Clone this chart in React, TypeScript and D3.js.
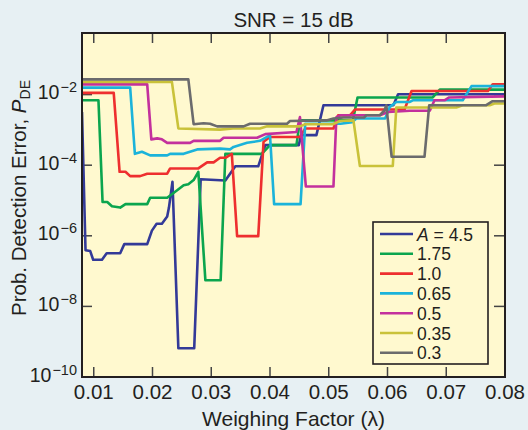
import React from 'react';
import * as d3 from 'd3';

// Weighing factor λ vs. probability of detection error P_DE, one curve per amplitude A.
const lambdaTicks = [0.01, 0.02, 0.03, 0.04, 0.05, 0.06, 0.07, 0.08];
const pdeTicks = [1e-2, 1e-4, 1e-6, 1e-8, 1e-10];
const pdeTickExponents = ['−2', '−4', '−6', '−8', '−10'];
const amplitudeLabels = ['4.5', '1.75', '1.0', '0.65', '0.5', '0.35', '0.3'];

const seriesA45: [number, number][] = [
  [0.0080, 3.2e-3], [0.0086, 3.9e-7], [0.0094, 3.7e-7], [0.0099, 2.1e-7], [0.0114, 2.1e-7],
  [0.0122, 3.2e-7], [0.0145, 3.2e-7], [0.0152, 5.8e-7], [0.0191, 5.8e-7], [0.0199, 1.4e-6],
  [0.0207, 2.2e-6], [0.0216, 2.2e-6], [0.0225, 3.5e-6], [0.0228, 6.3e-6], [0.0234, 3.4e-5],
  [0.0244, 6.5e-10], [0.0271, 6.5e-10], [0.0282, 4.0e-5], [0.0324, 3.7e-5], [0.0341, 9.3e-5],
  [0.0380, 9.3e-5], [0.0392, 3.7e-4], [0.0449, 3.7e-4], [0.0453, 7.1e-4], [0.0479, 7.1e-4],
  [0.0491, 5.0e-3], [0.0610, 5.0e-3], [0.0618, 1.02e-2], [0.0800, 1.02e-2],
];
const seriesA175: [number, number][] = [
  [0.0080, 6.9e-3], [0.0108, 6.9e-3], [0.0115, 9.1e-6], [0.0123, 9.1e-6], [0.0131, 6.9e-6],
  [0.0145, 6.3e-6], [0.0154, 7.9e-6], [0.0191, 7.9e-6], [0.0196, 1.2e-5], [0.0225, 1.2e-5],
  [0.0242, 1.95e-5], [0.0253, 2.7e-5], [0.0261, 2.9e-5], [0.0270, 3.8e-5], [0.0278, 6.5e-5],
  [0.0290, 5.5e-8], [0.0316, 5.5e-8], [0.0324, 2.1e-4], [0.0386, 2.1e-4], [0.0400, 3.7e-4],
  [0.0445, 3.7e-4], [0.0451, 1.86e-3], [0.0541, 1.86e-3], [0.0549, 8.3e-3], [0.0677, 8.3e-3],
  [0.0689, 1.38e-2], [0.0800, 1.38e-2],
];
const seriesA10: [number, number][] = [
  [0.0080, 1.12e-2], [0.0134, 1.12e-2], [0.0144, 6.5e-5], [0.0154, 6.5e-5], [0.0162, 4.9e-5],
  [0.0179, 4.9e-5], [0.0191, 5.75e-5], [0.0225, 5.75e-5], [0.0230, 8.1e-5], [0.0278, 8.1e-5],
  [0.0293, 1.2e-4], [0.0304, 1.2e-4], [0.0315, 1.62e-4], [0.0324, 1.62e-4], [0.0335, 2.1e-4],
  [0.0344, 9.8e-7], [0.0380, 9.8e-7], [0.0389, 4.6e-4], [0.0400, 6.3e-4], [0.0451, 6.3e-4],
  [0.0460, 1.1e-3], [0.0508, 1.1e-3], [0.0516, 2.6e-3], [0.0536, 2.6e-3], [0.0545, 3.8e-3],
  [0.0629, 3.8e-3], [0.0641, 1.26e-2], [0.0771, 1.26e-2], [0.0779, 1.95e-2], [0.0800, 1.95e-2],
];
const seriesA065: [number, number][] = [
  [0.0080, 1.58e-2], [0.0162, 1.58e-2], [0.0170, 2.1e-4], [0.0182, 2.4e-4], [0.0196, 1.9e-4],
  [0.0225, 1.9e-4], [0.0230, 2.1e-4], [0.0253, 2.1e-4], [0.0276, 2.8e-4], [0.0315, 2.95e-4],
  [0.0332, 2.8e-4], [0.0338, 3.3e-4], [0.0361, 4.3e-4], [0.0383, 4.9e-4], [0.0395, 6.3e-4],
  [0.0400, 7.1e-4], [0.0407, 7.9e-6], [0.0452, 7.9e-6], [0.0460, 1.5e-3], [0.0520, 1.5e-3],
  [0.0540, 1.66e-3], [0.0547, 2.1e-3], [0.0596, 2.1e-3], [0.0604, 4.5e-3], [0.0615, 6.2e-3],
  [0.0638, 6.2e-3], [0.0643, 6.9e-3], [0.0728, 6.9e-3], [0.0743, 1.74e-2], [0.0800, 1.74e-2],
];
const seriesA05: [number, number][] = [
  [0.0080, 1.95e-2], [0.0191, 1.95e-2], [0.0198, 5.4e-4], [0.0208, 5.75e-4], [0.0216, 5.4e-4],
  [0.0225, 4.3e-4], [0.0264, 4.3e-4], [0.0270, 4.9e-4], [0.0315, 4.9e-4], [0.0321, 6.0e-4],
  [0.0378, 6.0e-4], [0.0392, 7.6e-4], [0.0445, 8.7e-4], [0.0451, 2.3e-3], [0.0461, 2.5e-5],
  [0.0508, 2.5e-5], [0.0513, 2.3e-3], [0.0520, 2.6e-3], [0.0587, 2.6e-3], [0.0601, 3.2e-3],
  [0.0638, 3.5e-3], [0.0672, 3.5e-3], [0.0680, 6.9e-3], [0.0697, 6.9e-3], [0.0705, 8.3e-3],
  [0.0800, 8.9e-3],
];
const seriesA035: [number, number][] = [
  [0.0080, 2.3e-2], [0.0233, 2.3e-2], [0.0244, 1.1e-3], [0.0315, 1.02e-3], [0.0337, 1.1e-3],
  [0.0383, 1.1e-3], [0.0395, 1.26e-3], [0.0451, 1.26e-3], [0.0460, 1.45e-3], [0.0507, 1.45e-3],
  [0.0519, 1.78e-3], [0.0542, 1.86e-3], [0.0553, 9.5e-5], [0.0609, 9.5e-5], [0.0615, 4.3e-3],
  [0.0717, 4.3e-3], [0.0728, 5.0e-3], [0.0774, 5.0e-3], [0.0782, 5.6e-3], [0.0800, 5.6e-3],
];
const seriesA03: [number, number][] = [
  [0.0080, 2.7e-2], [0.0261, 2.7e-2], [0.0270, 1.45e-3], [0.0287, 1.55e-3], [0.0298, 1.5e-3],
  [0.0310, 1.26e-3], [0.0355, 1.26e-3], [0.0366, 1.5e-3], [0.0429, 1.5e-3], [0.0434, 1.78e-3],
  [0.0496, 1.86e-3], [0.0508, 2.1e-3], [0.0525, 2.24e-3], [0.0560, 2.24e-3], [0.0564, 2.6e-3],
  [0.0587, 2.6e-3], [0.0595, 3.6e-3], [0.0598, 5.0e-3], [0.0607, 1.74e-4], [0.0663, 1.74e-4],
  [0.0671, 5.0e-3], [0.0768, 5.0e-3], [0.0779, 6.5e-3], [0.0800, 6.5e-3],
];

const allSeries = [seriesA45, seriesA175, seriesA10, seriesA065, seriesA05, seriesA035, seriesA03];
const colors = ['#333a98', '#0ba54e', '#ee2f2f', '#1bb3da', '#c3309d', '#c9c23a', '#6b6b6d'];

const W = 528;
const H = 430;
const left = 82;
const right = 505;
const top = 33;
const bottom = 377;
const font = '"Liberation Sans", Arial, Helvetica, sans-serif';
const ink = '#231f20';

export default function App() {
  const x = d3.scaleLinear().domain([0.008, 0.08]).range([left, right]);
  const y = d3.scaleLog().domain([1e-10, 0.556]).range([bottom, top]);
  const line = d3
    .line<[number, number]>()
    .x((d) => x(d[0]))
    .y((d) => y(d[1]));

  const legendX = 373;
  const legendY = 222;
  const rowH = 19.8;

  return (
    <svg
      width={W}
      height={H}
      style={{ position: 'absolute', left: 0, top: 0, fontFamily: font }}
    >
      <rect x={0} y={0} width={W} height={H} fill="#e7f0f3" />
      <rect x={left} y={top} width={right - left} height={bottom - top} fill="#fff9cf" />
      <defs>
        <clipPath id="plotClip">
          <rect x={left} y={top} width={right - left} height={bottom - top} />
        </clipPath>
      </defs>

      <text x={(left + right) / 2} y={27} textAnchor="middle" fontSize={20.5} fill={ink}>
        SNR = 15 dB
      </text>

      {/* ticks (inward, on all four sides) */}
      {lambdaTicks.map((t) => (
        <g key={'xt' + t}>
          <line x1={x(t)} x2={x(t)} y1={bottom} y2={bottom - 10} stroke="#444" strokeWidth={1.5} />
          <line x1={x(t)} x2={x(t)} y1={top} y2={top + 10} stroke="#444" strokeWidth={1.5} />
          <text x={x(t)} y={399} textAnchor="middle" fontSize={20.5} fill={ink}>
            {t.toFixed(2)}
          </text>
        </g>
      ))}
      {pdeTicks.map((t, i) => (
        <g key={'yt' + t}>
          <line x1={left} x2={left + 10} y1={y(t)} y2={y(t)} stroke="#444" strokeWidth={1.5} />
          <line x1={right} x2={right - 11} y1={y(t)} y2={y(t)} stroke="#444" strokeWidth={1.5} />
          <text x={77} y={y(t) + 4.5} textAnchor="end" fontSize={19.5} fill={ink}>
            10
            <tspan fontSize={14.5} dx={1} dy={-7}>
              {pdeTickExponents[i]}
            </tspan>
          </text>
        </g>
      ))}

      <g clipPath="url(#plotClip)">
        {allSeries.map((s, i) => (
          <path
            key={'s' + i}
            d={line(s) ?? ''}
            fill="none"
            stroke={colors[i]}
            strokeWidth={2.6}
            strokeLinejoin="round"
          />
        ))}
      </g>

      <rect
        x={left}
        y={top}
        width={right - left}
        height={bottom - top}
        fill="none"
        stroke={ink}
        strokeWidth={2}
      />

      {/* legend */}
      <rect
        x={legendX}
        y={legendY}
        width={115}
        height={142}
        fill="#fff9cf"
        stroke={ink}
        strokeWidth={1.6}
      />
      {amplitudeLabels.map((lab, i) => {
        const cy = legendY + 12 + i * rowH;
        return (
          <g key={'lg' + i}>
            <line x1={380} x2={413} y1={cy} y2={cy} stroke={colors[i]} strokeWidth={2.6} />
            <text x={417} y={cy + 6.5} fontSize={17.5} fill={ink}>
              {i === 0 ? (
                <>
                  <tspan fontStyle="italic">A</tspan> = {lab}
                </>
              ) : (
                lab
              )}
            </text>
          </g>
        );
      })}

      <text x={(left + right) / 2} y={426} textAnchor="middle" fontSize={21} fill={ink}>
        Weighing Factor (λ)
      </text>
      <text
        transform={`translate(26, ${(top + bottom) / 2 - 7}) rotate(-90)`}
        textAnchor="middle"
        fontSize={20.5}
        fill={ink}
      >
        Prob. Detection Error,{' '}
        <tspan fontStyle="italic">P</tspan>
        <tspan fontSize={14} dy={4}>
          DE
        </tspan>
      </text>
    </svg>
  );
}
